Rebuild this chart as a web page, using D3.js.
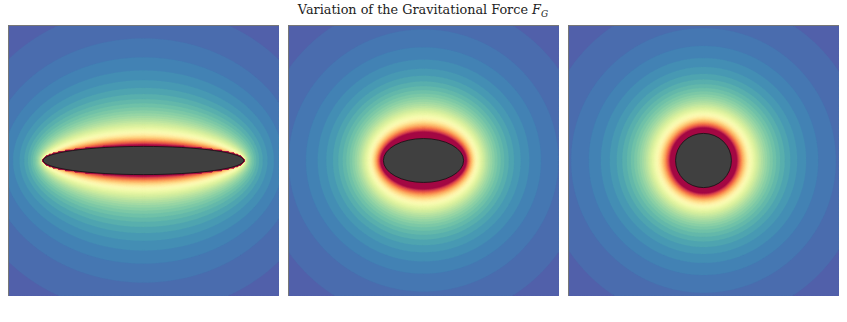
<!DOCTYPE html>
<html>
<head>
<meta charset="utf-8">
<script src="https://cdn.jsdelivr.net/npm/d3@7"></script>
<style>
  body { margin: 0; background: #fff; }
  svg { display: block; }
</style>
</head>
<body>
<div id="chart"></div>
<script>
// chart data (units: plot spans -5..5 on both axes)
const panelNames = ["elongated", "oval", "round"];
const semiA = [3.7, 1.48, 1.03];   // half width of each body
const semiB = [0.52, 0.81, 1.0];   // half height of each body
const bodyMass = [1, 1, 1];
const axisExtent = [-5, 5];
const nLevels = 50;
const forceMin = 0;
const forceMax = 0.7;              // colour scale saturates here

const W = 847, H = 322;
const panelX = [8, 288, 568], panelY = 25, panelSize = 271;
const n = 200; // grid cells per side

const svg = d3.select("#chart")
    .append("svg")
    .attr("width", W)
    .attr("height", H);

svg.append("text")
    .attr("x", 423)
    .attr("y", 14)
    .attr("text-anchor", "middle")
    .style("font-family", "'DejaVu Serif', serif")
    .style("font-size", "12.8px")
    .style("fill", "#222")
    .text("Variation of the Gravitational Force ")
    .append("tspan")
    .style("font-style", "italic")
    .text("F")
    .append("tspan")
    .attr("dy", 2.5)
    .style("font-size", "9px")
    .text("G");

// in-plane force of a homogeneous prolate spheroid (semi-axes a, b, c = b), outside the body
function forceGrid(a, b, m) {
    const A = a * a, B = b * b, C = B;
    const nq = 48;
    const step = (axisExtent[1] - axisExtent[0]) / n;
    const values = new Float64Array(n * n);
    for (let j = 0; j < n; j++) {
        const y = axisExtent[1] - (j + 0.5) * step;
        for (let i = 0; i < n; i++) {
            const x = axisExtent[0] + (i + 0.5) * step;
            if (x * x / A + y * y / B <= 1) { values[j * n + i] = 10; continue; }
            const p = A + B - x * x - y * y;
            const q = A * B - x * x * B - y * y * A;
            const lam = (-p + Math.sqrt(p * p - 4 * q)) / 2;
            // u + C = (C + lam) / t^2, t from 0..1
            let ix = 0, iy = 0;
            for (let k = 0; k < nq; k++) {
                const t = (k + 0.5) / nq;
                const u = (C + lam) / (t * t) - C;
                const du = 2 * (C + lam) / (t * t * t);
                const delta = Math.sqrt((A + u) * (B + u) * (C + u));
                ix += du / ((A + u) * delta);
                iy += du / ((B + u) * delta);
            }
            ix /= nq; iy /= nq;
            const gx = 1.5 * m * x * ix, gy = 1.5 * m * y * iy;
            values[j * n + i] = Math.sqrt(gx * gx + gy * gy);
        }
    }
    return values;
}

const grids = panelNames.map((_, p) => forceGrid(semiA[p], semiB[p], bodyMass[p]));
const levelStep = (forceMax - forceMin) / nLevels;
const thresholds = d3.range(nLevels).map(i => forceMin + i * levelStep);
const color = t => d3.interpolateSpectral(1 - Math.max(0, Math.min(1, t)));
const bandColor = d => color((d.value + levelStep / 2 - forceMin) / (forceMax - forceMin));

const x = d3.scaleLinear().domain(axisExtent).range([0, panelSize]);
const y = d3.scaleLinear().domain(axisExtent).range([panelSize, 0]);
const path = d3.geoPath(d3.geoIdentity().scale(panelSize / n));

panelNames.forEach((name, p) => {
    const g = svg.append("g")
        .attr("class", "panel " + name)
        .attr("transform", `translate(${panelX[p]}, ${panelY})`);

    g.append("defs").append("clipPath")
        .attr("id", "clip" + p)
        .append("rect")
        .attr("width", panelSize)
        .attr("height", panelSize);

    const contours = d3.contours()
        .size([n, n])
        .thresholds(thresholds)(grids[p]);

    g.append("g")
        .attr("clip-path", `url(#clip${p})`)
        .selectAll("path")
        .data(contours)
        .join("path")
        .attr("d", path)
        .attr("fill", bandColor)
        .attr("stroke", bandColor)
        .attr("stroke-width", 0.3);

    g.append("ellipse")
        .attr("cx", x(0))
        .attr("cy", y(0))
        .attr("rx", x(semiA[p]) - x(0))
        .attr("ry", y(0) - y(semiB[p]))
        .attr("fill", "#404040")
        .attr("stroke", "#111")
        .attr("stroke-width", 0.8);

    // frame: darker on top and left like the reference
    g.append("line")
        .attr("x1", 0).attr("y1", 0.5).attr("x2", panelSize).attr("y2", 0.5)
        .attr("stroke", "#777").attr("stroke-width", 1);
    g.append("line")
        .attr("x1", 0.5).attr("y1", 0).attr("x2", 0.5).attr("y2", panelSize)
        .attr("stroke", "#777").attr("stroke-width", 1);
});
</script>
</body>
</html>
